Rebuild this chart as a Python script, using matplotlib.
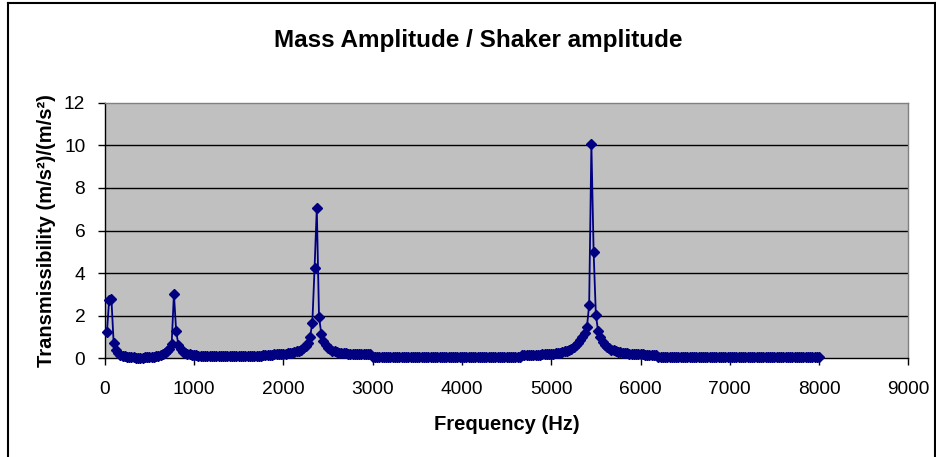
import numpy as np
import matplotlib
matplotlib.use("Agg")
import matplotlib.pyplot as plt
from matplotlib.lines import Line2D

plt.rcParams['font.family'] = ['Liberation Sans', 'DejaVu Sans']

# frequency sweep, 25 Hz steps up to 8000 Hz
freq = np.arange(25, 8001, 25)

# transmissibility, split by region
trans_25_1000 = [1.23, 2.75, 2.80, 0.74, 0.38, 0.24, 0.17, 0.13, 0.10, 0.08,
                 0.06, 0.05, 0.04, 0.03, 0.03, 0.03, 0.03, 0.04, 0.04, 0.05,
                 0.06, 0.08, 0.10, 0.12, 0.15, 0.19, 0.25, 0.33, 0.45, 0.68,
                 3.03, 1.30, 0.62, 0.42, 0.31, 0.25, 0.21, 0.18, 0.16, 0.15]
trans_1025_1750 = [0.14, 0.13, 0.12, 0.12, 0.11, 0.11, 0.10, 0.10, 0.10, 0.10,
                   0.10, 0.09, 0.10, 0.10, 0.09, 0.10, 0.10, 0.09, 0.10, 0.10,
                   0.10, 0.10, 0.09, 0.10, 0.10, 0.10, 0.10, 0.11, 0.11, 0.12]
trans_1775_2975 = [0.15, 0.16, 0.16, 0.17, 0.17, 0.18, 0.18, 0.19, 0.20, 0.21,
                   0.22, 0.23, 0.25, 0.27, 0.29, 0.32, 0.36, 0.41, 0.48, 0.58,
                   0.74, 1.02, 1.65, 4.22, 7.05, 1.95, 1.16, 0.82, 0.62, 0.50,
                   0.42, 0.36, 0.32, 0.29, 0.27, 0.25, 0.24, 0.23, 0.22, 0.21,
                   0.20, 0.20, 0.19, 0.19, 0.19, 0.18, 0.18, 0.18, 0.18]
trans_3000_4650 = [0.06, 0.06, 0.06, 0.06, 0.06, 0.06, 0.06, 0.06, 0.06, 0.06,
                   0.06, 0.06, 0.06, 0.06, 0.06, 0.06, 0.06, 0.06, 0.06, 0.06,
                   0.06, 0.06, 0.06, 0.06, 0.06, 0.06, 0.06, 0.06, 0.06, 0.06,
                   0.06, 0.06, 0.06, 0.06, 0.06, 0.06, 0.06, 0.06, 0.06, 0.06,
                   0.06, 0.06, 0.06, 0.06, 0.06, 0.06, 0.06, 0.06, 0.06, 0.06,
                   0.06, 0.06, 0.06, 0.06, 0.06, 0.06, 0.06, 0.06, 0.06, 0.06,
                   0.06, 0.06, 0.06, 0.06, 0.06, 0.06, 0.07]
trans_4675_5375 = [0.15, 0.15, 0.15, 0.15, 0.16, 0.16, 0.16, 0.17, 0.17, 0.18,
                   0.18, 0.19, 0.20, 0.21, 0.22, 0.23, 0.25, 0.27, 0.29, 0.32,
                   0.36, 0.40, 0.46, 0.54, 0.63, 0.74, 0.88, 1.02, 1.20]
trans_5400_6175 = [1.47, 2.50, 10.05, 5.00, 2.05, 1.28, 0.98, 0.78, 0.64, 0.54,
                   0.47, 0.41, 0.37, 0.33, 0.30, 0.28, 0.26, 0.24, 0.23, 0.22,
                   0.21, 0.20, 0.19, 0.19, 0.18, 0.18, 0.17, 0.17, 0.17, 0.16,
                   0.16, 0.16]
trans_6200_8000 = [0.06, 0.06, 0.06, 0.06, 0.06, 0.06, 0.06, 0.06, 0.06, 0.06,
                   0.06, 0.06, 0.06, 0.06, 0.06, 0.06, 0.06, 0.06, 0.06, 0.06,
                   0.06, 0.06, 0.06, 0.06, 0.06, 0.06, 0.06, 0.06, 0.06, 0.06,
                   0.06, 0.06, 0.06, 0.06, 0.06, 0.06, 0.06, 0.06, 0.06, 0.06,
                   0.06, 0.06, 0.06, 0.06, 0.06, 0.06, 0.06, 0.06, 0.06, 0.06,
                   0.06, 0.06, 0.06, 0.06, 0.06, 0.06, 0.06, 0.06, 0.06, 0.06,
                   0.06, 0.06, 0.06, 0.06, 0.06, 0.06, 0.06, 0.06, 0.06, 0.06,
                   0.06, 0.06, 0.06]

trans = (trans_25_1000 + trans_1025_1750 + trans_1775_2975 + trans_3000_4650
         + trans_4675_5375 + trans_5400_6175 + trans_6200_8000)

x_ticks = [0, 1000, 2000, 3000, 4000, 5000, 6000, 7000, 8000, 9000]
y_ticks = [0, 2, 4, 6, 8, 10, 12]

W, H = 937, 457
fig = plt.figure(figsize=(W / 100, H / 100), dpi=100)
ax = fig.add_axes([104.7 / W, 1 - 358.3 / H, (908.4 - 104.7) / W, (358.3 - 102.7) / H])
ax.set_facecolor('#C0C0C0')

navy = '#000080'
ax.plot(freq, trans, color=navy, lw=1.3, marker='D', ms=5.5,
        mfc=navy, mec=navy, clip_on=False, zorder=5)

ax.set_xlim(0, 9000)
ax.set_ylim(0, 12)
ax.set_xticks(x_ticks)
ax.set_yticks(y_ticks)
ax.tick_params(axis='both', direction='out', length=5, width=1, labelsize=13.8,
               colors='black')
ax.tick_params(axis='x', pad=11)
ax.tick_params(axis='y', pad=9)

for v in y_ticks[1:-1]:
    ax.axhline(v, color='black', lw=1, zorder=1)

for s in ['top', 'right']:
    ax.spines[s].set_color('#808080')
for s in ['left', 'bottom']:
    ax.spines[s].set_color('black')
for s in ax.spines.values():
    s.set_linewidth(1)

fig.text(478.5 / W, 1 - 41 / H, 'Mass Amplitude / Shaker amplitude',
         ha='center', va='center', fontsize=17.5, fontweight='bold')
fig.text(506.5 / W, 1 - 424 / H, 'Frequency (Hz)',
         ha='center', va='center', fontsize=14.5, fontweight='bold')
fig.text(47 / W, 1 - 230.5 / H, 'Transmissibility (m/s\u00b2)/(m/s\u00b2)',
         ha='center', va='center', rotation=90, fontsize=14.5, fontweight='bold')

# outer chart border (bottom edge runs off the image)
kw = dict(color='black', lw=1.5, transform=fig.transFigure)
fig.add_artist(Line2D([8 / W, 8 / W], [0, 1 - 3 / H], **kw))
fig.add_artist(Line2D([8 / W, 935 / W], [1 - 3 / H, 1 - 3 / H], **kw))
fig.add_artist(Line2D([935 / W, 935 / W], [0, 1 - 3 / H], **kw))

fig.savefig('out.png', dpi=100)
